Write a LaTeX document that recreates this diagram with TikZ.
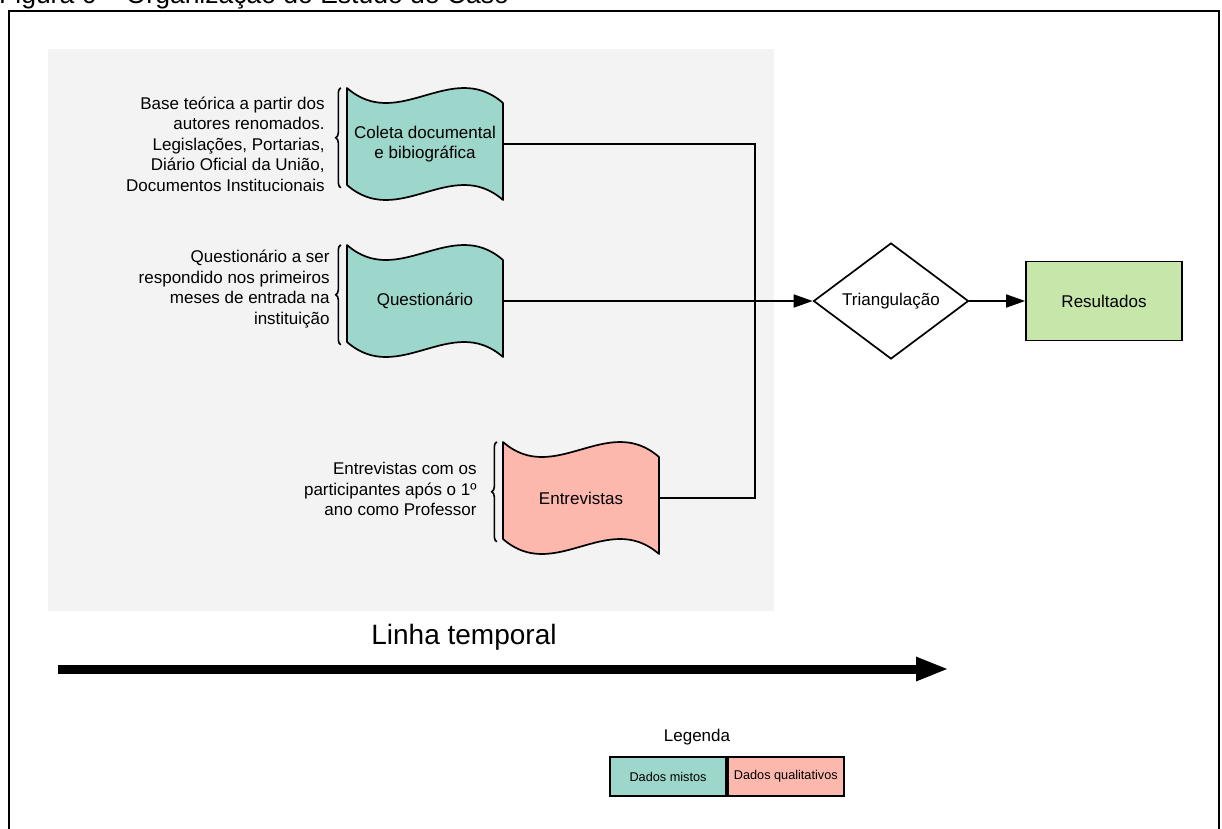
\documentclass[tikz,border=0pt]{standalone}
\usepackage{fontspec}
\setmainfont{Liberation Sans}
\usetikzlibrary{positioning,shapes.geometric,arrows.meta,decorations.pathreplacing}

\definecolor{mixedteal}{HTML}{9DD6CA}
\definecolor{qualipink}{HTML}{FDB8AE}
\definecolor{resgreen}{HTML}{C7E6AA}
\definecolor{bggrey}{HTML}{F3F3F3}

% wavy data source: name, centre, fill, text
\newcommand{\tapenode}[4]{%
  \draw[tapeline, fill=#3, shift={(#2)}] (-78,-56) .. controls (-26.5,-11) and (26.5,-86) .. (78,-41)
    -- (78,56) .. controls (26.5,11) and (-26.5,86) .. (-78,41) -- cycle;
  \node[tapebox] (#1) at (#2) {#4};
}

\begin{document}
\begin{tikzpicture}[x=1pt, y=-1pt,
    labelfont/.style={font=\fontsize{17}{20.5}\selectfont},
    tapeline/.style={draw=black, line width=1.7pt, line join=round},
    tapebox/.style={labelfont, align=center, inner sep=0pt, minimum width=156pt, minimum height=97pt},
    note/.style={labelfont, align=right, inner sep=0pt},
    bracestyle/.style={decorate, decoration={brace, amplitude=5pt}, line width=1.6pt},
    connector/.style={line width=1.8pt},
    arrowtip/.style={-{Triangle[length=19pt, width=13pt]}},
    legendbox/.style={draw=black, line width=1.8pt, minimum width=116pt, minimum height=39pt, inner sep=0pt, font=\fontsize{12.7}{15}\selectfont}]

\useasboundingbox (0,0) rectangle (1222,828);
\clip (0,0) rectangle (1222,828);

% caption cut off at the top and outer frame
\node[anchor=base west, inner sep=0pt, font=\fontsize{26.5}{30}\selectfont] (caption) at (-1,3) {Figura 6 – Organização do Estudo de Caso};
\draw[line width=2.2pt] (9,11) rectangle (1219,900);

% grey data collection area
\fill[bggrey] (48,49) rectangle (774,611);

% sources
\tapenode{coleta}{425,144}{mixedteal}{Coleta documental\\e bibiográfica}
\tapenode{quest}{425,301}{mixedteal}{Questionário}
\tapenode{entrev}{581,498}{qualipink}{Entrevistas}

% braces and notes
\draw[bracestyle] ([shift={(-6,-5)}]coleta.south west) -- ([shift={(-6,-7.5)}]coleta.north west);
\draw[bracestyle] ([shift={(-6,-5)}]quest.south west) -- ([shift={(-6,-7.5)}]quest.north west);
\draw[bracestyle] ([shift={(-6,-5)}]entrev.south west) -- ([shift={(-6,-7.5)}]entrev.north west);

\node[note, left=22pt of coleta] (coletanote) {Base teórica a partir dos\\autores renomados.\\Legislações, Portarias,\\Diário Oficial da União,\\Documentos Institucionais};
\node[note, left=17pt of quest, yshift=12pt] (questnote) {Questionário a ser\\respondido nos primeiros\\meses de entrada na\\instituição};
\node[note, left=26pt of entrev, yshift=9pt] (entrevnote) {Entrevistas com os\\participantes após o 1º\\ano como Professor};

% analysis
\node[diamond, draw, line width=1.7pt, fill=white, labelfont, inner sep=0pt, aspect=1.34,
      minimum width=155pt, minimum height=116pt] (tri) at (891,301) {Triangulação};
\node[draw, line width=1.7pt, fill=resgreen, labelfont, minimum width=156pt, minimum height=79pt] (res) at (1104,301) {Resultados};

\coordinate (junc) at (755,301);
\draw[connector] (coleta.east) -| (junc);
\draw[connector] (entrev.east) -| (junc);
\draw[connector, arrowtip] (quest.east) -- (tri.west);
\draw[connector, arrowtip] (tri.east) -- (res.west);

% time line
\node[font=\fontsize{28}{34}\selectfont] (timelabel) at (464,637) {Linha temporal};
\coordinate (tstart) at (58,669);
\coordinate (tend) at (949,669);
\draw[line width=9pt, -{Triangle[length=33pt, width=22pt]}] (tstart) -- (tend);

% legend
\node[labelfont] (legendtitle) at (697,737) {Legenda};
\node[legendbox, fill=mixedteal] (mixed) at (668,776.5) {Dados mistos};
\node[legendbox, fill=qualipink, right=0pt of mixed] (quali) {Dados qualitativos};

\end{tikzpicture}
\end{document}
